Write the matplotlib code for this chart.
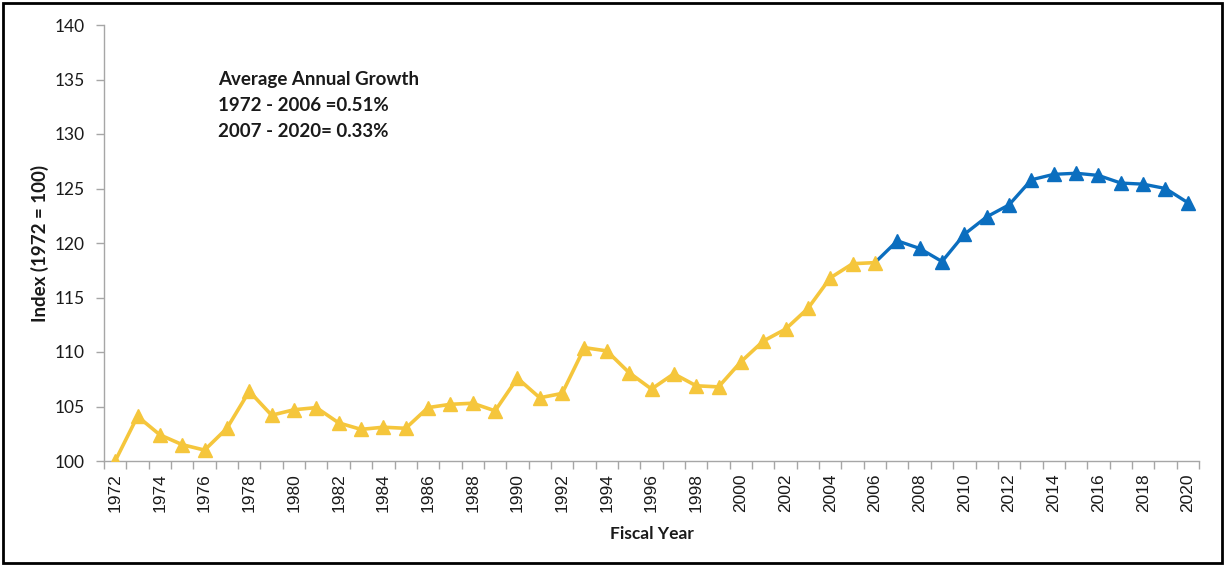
import matplotlib
matplotlib.use("Agg")
import matplotlib.pyplot as plt
from matplotlib.patches import Rectangle

# Fiscal years and index values (1972 = 100)
years_early = list(range(1972, 2007))
index_early = [100.0, 104.1, 102.4, 101.5, 101.0, 103.0, 106.4, 104.2, 104.7, 104.9,
               103.5, 102.9, 103.1, 103.0, 104.9, 105.2, 105.3, 104.6, 107.6, 105.8,
               106.2, 110.4, 110.1, 108.1, 106.6, 108.0, 106.9, 106.8, 109.1, 111.0,
               112.1, 114.0, 116.8, 118.1, 118.2]

years_late = list(range(2006, 2021))
index_late = [118.2, 120.2, 119.5, 118.3, 120.8, 122.4, 123.5, 125.8, 126.3, 126.4,
              126.2, 125.5, 125.4, 125.0, 123.7]

tick_years = list(range(1972, 2021, 2))
y_ticks = [100, 105, 110, 115, 120, 125, 130, 135, 140]

growth_lines = ["Average Annual Growth", "1972 - 2006 =0.51%", "2007 - 2020= 0.33%"]

YELLOW = "#F5C63C"
BLUE = "#0B6EBF"
AXIS_GRAY = "#A6A6A6"
TEXT = "#1A1A1A"
SANS = ["Lato", "DejaVu Sans"]
TICK_FONT = ["Liberation Sans", "DejaVu Sans"]

fig = plt.figure(figsize=(12.25, 5.66), dpi=100)
ax = fig.add_axes([104 / 1225, 1 - 461 / 566, (1199 - 104) / 1225, (461 - 25) / 566])

# Later period: line starts at 2006, markers from 2007
ax.plot(years_late, index_late, color=BLUE, lw=2.4, zorder=2)
ax.plot(years_late[1:], index_late[1:], ls="none", marker="^", ms=9.5,
        color=BLUE, zorder=3)
# Earlier period
ax.plot(years_early, index_early, color=YELLOW, lw=2.6, marker="^", ms=9.5,
        zorder=4)

ax.set_xlim(1971.5, 2020.5)
ax.set_ylim(100, 140)
ax.set_yticks(y_ticks)
ax.set_yticklabels([str(v) for v in y_ticks], fontsize=12.5, family=SANS, color=TEXT)
ax.set_xticks(tick_years)
ax.set_xticklabels([str(y) for y in tick_years], rotation=90, fontsize=12.5,
                   family=TICK_FONT, color=TEXT)
# Category boundaries carry the tick marks
ax.set_xticks([y + 0.5 for y in range(1971, 2021)], minor=True)
ax.tick_params(axis="x", which="major", length=0, pad=9)
ax.tick_params(axis="x", which="minor", length=6, color=AXIS_GRAY, width=1)
ax.tick_params(axis="y", length=6, color=AXIS_GRAY, width=1, pad=8)

for side in ("top", "right"):
    ax.spines[side].set_visible(False)
for side in ("left", "bottom"):
    ax.spines[side].set_color(AXIS_GRAY)
    ax.spines[side].set_linewidth(1)

ax.set_ylabel("Index (1972 = 100)", fontsize=13.5, fontweight="bold",
              family=SANS, color=TEXT, labelpad=4)
ax.set_xlabel("Fiscal Year", fontsize=12.5, fontweight="bold", family=SANS,
              color=TEXT, labelpad=10)

ax.text(1976.6, 132.6, "\n".join(growth_lines), fontsize=13.5, fontweight="bold",
        family=SANS, color=TEXT, va="center", ha="left", linespacing=1.62)

fig.patches.append(Rectangle((3 / 1225, 3 / 566), 1219 / 1225, 560 / 566,
                             transform=fig.transFigure, fill=False,
                             edgecolor="black", lw=2))

fig.savefig("out.png", dpi=100)
